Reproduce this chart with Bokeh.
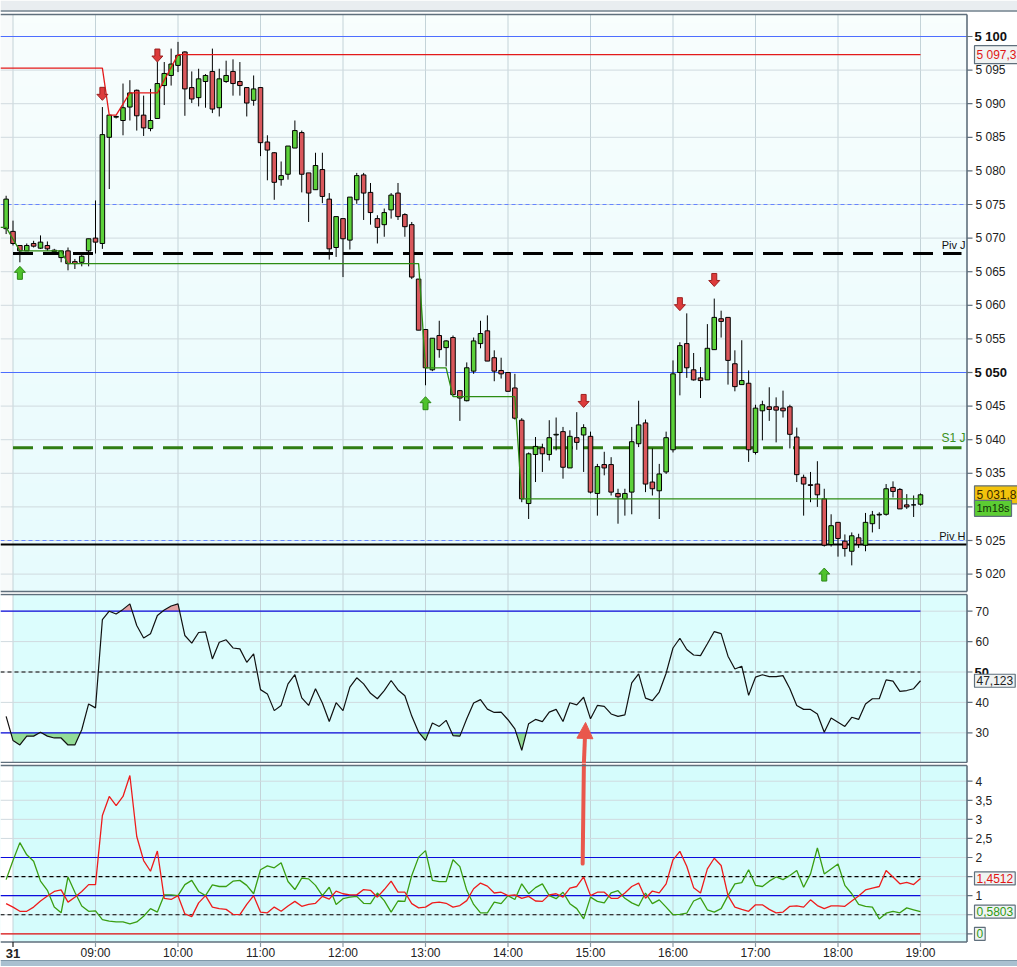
import numpy as np

from bokeh.plotting import figure
from bokeh.layouts import column
from bokeh.models import ColumnDataSource, Range1d, Label, Arrow, NormalHead
from bokeh.embed import file_html
from bokeh.resources import INLINE

# ------------------------------------------------------------------
# 1) DATA  (5-minute candles, 07:55 -> 19:00)
# ------------------------------------------------------------------
opens = [
    5071.4, 5071.0, 5068.9, 5068.1, 5069.2, 5068.5, 5068.9, 5068.2, 5067.1, 5068.1,
    5066.5, 5066.4, 5068.1, 5070.0, 5069.2, 5085.0, 5088.0, 5087.5, 5089.5, 5092.0,
    5088.3, 5086.3, 5087.8, 5092.7, 5094.2, 5095.7, 5097.7, 5092.4, 5090.9, 5093.3,
    5094.8, 5089.4, 5093.3, 5094.8, 5093.3, 5092.4, 5090.5, 5092.4, 5084.3, 5082.7,
    5078.7, 5079.5, 5083.4, 5085.7, 5079.7, 5077.2, 5080.2, 5075.8, 5068.6, 5072.9,
    5069.7, 5075.7, 5079.4, 5076.8, 5072.9, 5072.0, 5074.2, 5076.7, 5073.5, 5072.0,
    5063.9, 5056.4, 5050.4, 5055.5, 5053.7, 5055.2, 5047.3, 5045.8, 5050.2, 5054.3,
    5056.2, 5052.2, 5050.3, 5050.0, 5047.7, 5042.9, 5030.5, 5037.8, 5038.8, 5037.8,
    5040.7, 5041.2, 5035.8, 5040.3, 5040.7, 5040.5, 5032.0, 5036.3, 5036.3, 5032.0,
    5031.2, 5032.2, 5039.4, 5042.5, 5033.7, 5032.4, 5035.2, 5038.5, 5050.0, 5054.3,
    5050.4, 5049.2, 5048.9, 5053.4, 5058.0, 5058.2, 5051.3, 5048.2, 5048.4, 5038.1,
    5044.3, 5044.9, 5044.9, 5044.7, 5044.9, 5040.4, 5034.4, 5033.3, 5033.4, 5031.2,
    5024.4, 5027.7, 5024.9, 5023.4, 5025.4, 5024.3, 5027.5, 5028.8, 5028.9, 5032.9,
    5032.6, 5030.3, 5030.3, 5030.4,
]
highs = [
    5076.3, 5072.6, 5068.9, 5069.2, 5069.6, 5070.4, 5069.5, 5068.4, 5068.1, 5068.6,
    5066.9, 5067.8, 5069.9, 5075.6, 5089.5, 5088.3, 5088.2, 5093.0, 5093.5, 5092.1,
    5091.2, 5092.2, 5096.2, 5096.2, 5098.2, 5099.2, 5097.8, 5094.8, 5095.2, 5094.4,
    5098.2, 5095.2, 5096.4, 5096.6, 5096.2, 5092.4, 5094.2, 5092.4, 5085.3, 5082.8,
    5081.4, 5083.7, 5087.5, 5086.0, 5079.7, 5082.7, 5082.7, 5076.7, 5073.2, 5072.9,
    5076.1, 5079.7, 5079.7, 5078.2, 5073.4, 5074.4, 5076.7, 5078.2, 5073.7, 5072.4,
    5063.9, 5056.4, 5055.1, 5057.7, 5054.8, 5055.5, 5047.4, 5051.5, 5055.2, 5057.7,
    5058.5, 5053.3, 5052.2, 5050.0, 5049.8, 5043.2, 5038.1, 5040.4, 5039.4, 5042.9,
    5043.3, 5041.9, 5041.4, 5044.1, 5042.3, 5041.2, 5036.4, 5038.2, 5037.4, 5032.7,
    5032.7, 5041.9, 5045.8, 5043.0, 5038.7, 5036.4, 5041.2, 5051.8, 5054.5, 5058.8,
    5052.9, 5050.8, 5057.2, 5061.0, 5059.2, 5058.2, 5053.3, 5054.8, 5050.3, 5045.2,
    5045.8, 5047.8, 5046.3, 5047.3, 5045.2, 5041.8, 5034.8, 5035.2, 5036.8, 5032.7,
    5028.9, 5027.7, 5025.9, 5026.2, 5026.0, 5029.1, 5029.4, 5029.2, 5033.4, 5033.8,
    5032.8, 5031.9, 5031.7, 5032.0,
]
lows = [
    5070.6, 5068.9, 5066.4, 5068.1, 5068.6, 5068.4, 5068.1, 5067.8, 5066.4, 5065.2,
    5065.4, 5065.8, 5065.8, 5067.7, 5068.4, 5077.3, 5087.8, 5085.3, 5087.5, 5086.0,
    5085.2, 5085.9, 5087.8, 5089.8, 5092.7, 5094.7, 5088.2, 5090.1, 5089.6, 5089.4,
    5088.6, 5088.1, 5093.1, 5091.2, 5091.2, 5088.1, 5089.7, 5082.2, 5078.6, 5075.7,
    5077.8, 5078.7, 5083.4, 5076.8, 5072.4, 5077.2, 5075.2, 5066.8, 5067.2, 5064.2,
    5068.3, 5075.1, 5072.7, 5072.0, 5069.2, 5070.2, 5072.9, 5072.7, 5070.2, 5063.9,
    5056.3, 5048.1, 5050.2, 5052.2, 5050.9, 5046.6, 5042.8, 5045.7, 5049.8, 5053.6,
    5051.7, 5048.7, 5049.1, 5047.2, 5043.0, 5030.7, 5028.2, 5033.7, 5035.2, 5036.9,
    5038.4, 5034.2, 5035.8, 5038.5, 5035.2, 5032.0, 5028.7, 5034.7, 5031.7, 5027.5,
    5028.7, 5028.9, 5038.9, 5032.2, 5031.7, 5028.2, 5034.9, 5038.1, 5046.6, 5049.2,
    5048.8, 5046.2, 5048.9, 5053.4, 5055.2, 5048.2, 5047.2, 5048.2, 5036.7, 5037.8,
    5039.9, 5042.8, 5039.6, 5043.3, 5038.7, 5033.7, 5028.7, 5030.7, 5030.0, 5024.1,
    5024.1, 5022.6, 5022.6, 5021.3, 5023.9, 5023.4, 5026.2, 5026.7, 5028.7, 5031.4,
    5029.7, 5029.7, 5028.5, 5030.2,
]
closes = [
    5075.8, 5069.2, 5068.1, 5068.9, 5068.8, 5069.4, 5068.4, 5068.0, 5068.1, 5066.2,
    5066.2, 5067.3, 5069.9, 5069.4, 5085.4, 5088.3, 5088.1, 5089.4, 5091.6, 5088.2,
    5086.4, 5087.5, 5093.0, 5094.5, 5095.9, 5097.2, 5092.2, 5090.7, 5093.7, 5094.2,
    5089.2, 5093.7, 5094.2, 5093.0, 5092.7, 5090.1, 5092.2, 5084.2, 5083.1, 5078.3,
    5079.3, 5083.7, 5086.0, 5079.5, 5076.7, 5080.8, 5076.2, 5068.4, 5073.2, 5069.9,
    5076.1, 5079.3, 5076.7, 5073.8, 5071.6, 5073.8, 5076.4, 5073.2, 5071.7, 5064.2,
    5056.3, 5050.7, 5055.1, 5053.4, 5054.7, 5046.7, 5046.2, 5050.7, 5054.7, 5055.8,
    5051.7, 5050.2, 5049.8, 5047.2, 5043.2, 5031.2, 5037.9, 5039.0, 5037.9, 5040.3,
    5040.8, 5035.9, 5040.5, 5039.6, 5041.8, 5032.2, 5036.0, 5035.8, 5032.2, 5031.5,
    5032.0, 5039.7, 5042.2, 5033.4, 5032.7, 5034.9, 5040.3, 5049.8, 5054.0, 5050.7,
    5048.9, 5048.8, 5053.6, 5058.2, 5057.6, 5051.8, 5047.9, 5048.8, 5038.5, 5044.7,
    5045.2, 5044.5, 5044.4, 5044.3, 5040.8, 5034.8, 5033.4, 5033.2, 5031.8, 5024.3,
    5027.2, 5025.3, 5023.8, 5025.7, 5024.4, 5027.7, 5028.8, 5028.9, 5032.7, 5032.3,
    5029.7, 5030.0, 5030.3, 5031.8,
]

# RSI (one value per candle)
rsi = [
    35.4, 27.5, 26.0, 28.9, 28.9, 30.2, 28.9, 28.3, 28.3, 26.0,
    26.0, 31.0, 39.5, 38.2, 67.2, 70.0, 69.1, 70.6, 72.4, 65.3,
    61.2, 62.6, 68.6, 70.4, 71.7, 72.4, 62.0, 59.5, 63.0, 63.2,
    54.3, 59.8, 60.6, 57.9, 57.6, 53.2, 56.0, 44.2, 42.8, 37.3,
    39.0, 46.1, 49.1, 41.5, 39.0, 44.5, 39.8, 33.7, 39.9, 37.3,
    45.0, 48.1, 46.1, 43.0, 41.2, 43.9, 47.2, 44.1, 42.2, 35.5,
    30.2, 27.5, 33.2, 32.1, 34.1, 29.1, 28.9, 34.6, 39.8, 40.9,
    37.8, 36.7, 36.8, 34.3, 31.3, 24.2, 33.0, 34.4, 33.7, 36.8,
    37.7, 33.7, 39.9, 39.2, 41.7, 34.6, 39.0, 38.7, 36.2, 35.4,
    35.9, 46.4, 49.4, 41.4, 40.6, 43.4, 49.6, 57.9, 61.1, 57.4,
    55.6, 55.4, 59.3, 63.3, 62.6, 55.2, 51.0, 51.9, 42.3, 48.3,
    49.1, 48.5, 48.5, 48.8, 44.5, 39.0, 37.7, 37.7, 36.2, 30.2,
    34.9, 33.5, 32.1, 35.1, 34.4, 39.5, 41.2, 41.2, 47.4, 47.0,
    43.6, 43.9, 44.5, 47.123,
]

# lower oscillator: two ratio lines
ratio_red = [
    0.79, 0.70, 0.59, 0.59, 0.70, 0.86, 0.99, 1.11, 1.15, 0.83,
    0.96, 1.11, 1.29, 1.29, 3.10, 3.60, 3.36, 3.60, 4.15, 2.55,
    1.92, 1.64, 2.17, 0.93, 0.90, 1.00, 0.52, 0.45, 0.81, 1.00,
    0.70, 0.66, 0.64, 0.51, 0.50, 0.77, 1.00, 0.57, 0.55, 0.70,
    0.59, 0.73, 0.85, 0.72, 0.77, 0.80, 0.98, 0.91, 1.12, 1.05,
    1.02, 1.02, 1.16, 1.14, 0.96, 1.16, 1.38, 1.09, 1.09, 0.79,
    0.68, 0.70, 0.81, 0.83, 0.80, 0.70, 0.74, 0.87, 1.18, 1.33,
    1.25, 1.07, 1.09, 1.00, 1.02, 0.93, 0.98, 0.86, 0.85, 1.02,
    1.05, 0.96, 1.20, 1.24, 1.49, 1.00, 1.09, 1.09, 0.93, 0.93,
    1.07, 1.24, 1.33, 0.93, 1.12, 1.07, 1.31, 1.94, 2.16, 1.77,
    1.21, 1.07, 1.70, 1.98, 1.79, 1.00, 0.70, 0.64, 0.59, 0.76,
    0.76, 0.64, 0.55, 0.57, 0.72, 0.73, 0.70, 0.89, 0.74, 0.66,
    0.73, 0.73, 0.72, 0.86, 0.99, 1.15, 1.20, 1.24, 1.66, 1.49,
    1.31, 1.35, 1.29, 1.4512,
]
ratio_green = [
    1.42, 1.92, 2.39, 2.07, 1.90, 1.38, 1.14, 0.70, 0.55, 1.49,
    1.09, 0.73, 0.59, 0.60, 0.37, 0.33, 0.31, 0.31, 0.26, 0.31,
    0.46, 0.66, 0.57, 1.02, 1.02, 1.00, 1.29, 1.40, 1.11, 1.00,
    1.28, 1.24, 1.24, 1.38, 1.40, 1.27, 1.05, 1.68, 1.78, 1.73,
    1.86, 1.37, 1.16, 1.46, 1.44, 1.27, 1.00, 1.22, 0.77, 0.92,
    0.96, 0.98, 0.80, 0.79, 1.07, 0.87, 0.57, 0.86, 0.85, 1.53,
    2.01, 2.18, 1.40, 1.37, 1.37, 1.94, 1.76, 1.14, 0.77, 0.55,
    0.55, 0.83, 0.79, 1.00, 0.90, 1.31, 1.05, 1.21, 1.31, 1.00,
    0.92, 1.09, 0.79, 0.66, 0.39, 0.96, 0.85, 0.81, 1.07, 1.13,
    0.93, 0.81, 0.73, 1.07, 0.79, 0.89, 0.70, 0.50, 0.51, 0.54,
    0.86, 0.94, 0.63, 0.57, 0.66, 1.00, 1.31, 1.34, 1.68, 1.27,
    1.24, 1.38, 1.49, 1.42, 1.53, 1.66, 1.22, 1.57, 2.25, 1.57,
    1.70, 1.83, 1.27, 1.05, 0.77, 0.72, 0.70, 0.39, 0.54, 0.59,
    0.55, 0.68, 0.63, 0.5803,
]

# trailing stop lines (candle number -> level)
resist_bars = [1, 15, 16, 17, 19, 23, 26, 134]
resist_lvls = [5095.3, 5095.3, 5088.3, 5088.3, 5091.6, 5091.6, 5097.3, 5097.3]
support_bars = [1, 3, 9, 10, 61, 62, 65, 66, 75, 76, 134]
support_lvls = [5071.6, 5068.1, 5068.1, 5066.2, 5066.2, 5050.7, 5050.7,
                5046.4, 5046.4, 5031.2, 5031.2]

# signals (candle number, tip price)
buy_bars = [3, 62, 120]
buy_tips = [5065.8, 5046.4, 5020.9]
sell_bars = [15, 23, 85, 99, 104]
sell_tips = [5090.5, 5096.2, 5044.8, 5059.2, 5062.8]

# pivot levels
PIV_J = 5067.7
S1_J = 5038.8
PIV_H = 5024.4
BLUE_SOLID = [5100, 5050]
BLUE_DASHED = [5075, 5025]

price_ticks = list(range(5020, 5101, 5))
rsi_ticks = [30, 40, 50, 60, 70]
osc_ticks = [0, 0.5, 1, 1.5, 2, 2.5, 3, 3.5, 4]
osc_tick_labels = ["", "", "1", "", "2", "2,5", "3", "3,5", "4"]

HOURS = list(range(8, 20))
HOUR_LABELS = ["31"] + [f"{h:02d}:00" for h in range(9, 20)]

# hand-drawn annotation arrow (times, RSI tip, oscillator tail)
NOTE_T = [14.92, 14.94, 14.905]
NOTE_RSI_TIP = 33.4
NOTE_OSC_TAIL = 1.84

TIMER_TEXT = "1m18s"

# ------------------------------------------------------------------
# 2) LAYOUT: pixel <-> data helpers
# ------------------------------------------------------------------
FONT = "Liberation Sans"
W = 1017
PX_PER_HOUR = 82.5


def hour_at(px):
    return 8 + (px - 12.5) / PX_PER_HOUR


def y_mapper(ref_val, ref_px, ppu):
    return lambda px: ref_val - (px - ref_px) / ppu


X_LEFT, X_RIGHT = hour_at(0), hour_at(W)
PANEL_END = hour_at(966.5)
TICK_END = hour_at(972)
LABEL_X = hour_at(975)
BOX_X = hour_at(974)

py1 = y_mapper(5050, 372, 6.72)      # price panel
py2 = y_mapper(70, 610.7, 3.04)      # RSI panel
py3 = y_mapper(0, 933.3, 38.15)      # oscillator panel
PX_PER_PT = 6.72

FIRST_BAR = 7 + 55 / 60
STEP = 5 / 60
times = [FIRST_BAR + i * STEP for i in range(len(closes))]
BAR_W = STEP * 0.66


def t_of(bar):
    return times[bar - 1]


GREEN = "#5cd13a"
RED = "#d9585c"
GRID_H = "#d0dadf"
GRID_V = "#c4d3d8"
OUTLINE = "#5f6f7c"

xr = Range1d(X_LEFT, X_RIGHT)


def make_panel(fig_top, fig_bottom, ymap, top_px, bottom_px, bg, ticks):
    p = figure(
        width=W, height=fig_bottom - fig_top, x_range=xr,
        y_range=Range1d(ymap(fig_bottom), ymap(fig_top)),
        output_backend="svg", toolbar_location=None,
        x_axis_location=None, y_axis_location=None, min_border=0,
        background_fill_color="white", border_fill_color="white",
        outline_line_color=None,
    )
    p.grid.visible = False
    lo, hi = ymap(bottom_px), ymap(top_px)
    if bg is not None:
        p.quad(left=X_LEFT, right=PANEL_END, bottom=lo, top=hi,
               fill_color=bg, line_color=None, level="image")
    p.quad(left=X_LEFT, right=HOURS[0], bottom=lo, top=hi,
           fill_color="white", line_color=None, level="image")
    p.segment(x0=HOURS, y0=lo, x1=HOURS, y1=hi, line_color=GRID_V,
              line_width=1, level="underlay")
    p.segment(x0=X_LEFT, y0=ticks, x1=PANEL_END, y1=ticks, line_color=GRID_H,
              line_width=1, level="underlay")
    return p, lo, hi


def finish_panel(p, lo, hi, ticks, labels):
    p.segment(x0=[X_LEFT, X_LEFT, PANEL_END], y0=[hi, lo, lo],
              x1=[PANEL_END, PANEL_END, PANEL_END], y1=[hi, lo, hi],
              line_color=OUTLINE, line_width=1.6)
    shown = [t for t, lab in zip(ticks, labels)]
    p.segment(x0=PANEL_END, y0=shown, x1=TICK_END, y1=shown,
              line_color=OUTLINE, line_width=1.2)
    for t, lab in zip(ticks, labels):
        if lab:
            p.add_layout(Label(x=LABEL_X, y=t, text=lab, text_font=FONT,
                               text_font_size="12px", text_color="#222222",
                               text_align="left", text_baseline="middle"))


def side_box(p, y, text, color="#222222", bg="#f0f3f3", size="12px", bold=False):
    p.add_layout(Label(
        x=BOX_X, y=y, text=text, text_color=color,
        text_font=FONT, text_font_size=size,
        text_font_style="bold" if bold else "normal",
        text_align="left", text_baseline="middle",
        background_fill_color=bg,
        border_line_color=OUTLINE if bg else None, border_line_width=1.2,
        padding=2 if bg else 0,
    ))


def fill_beyond(xs, ys, level, above):
    polys_x, polys_y = [], []
    cx, cy = [], []
    prev = None
    for i, (x, y) in enumerate(zip(xs, ys)):
        inside = (y > level) if above else (y < level)
        if i > 0 and inside != prev:
            f = (level - ys[i - 1]) / (y - ys[i - 1])
            xc = xs[i - 1] + f * (x - xs[i - 1])
            if prev:
                cx.append(xc)
                cy.append(level)
                polys_x.append(cx)
                polys_y.append(cy)
                cx, cy = [], []
            else:
                cx, cy = [xc], [level]
        if inside:
            cx.append(x)
            cy.append(y)
        prev = inside
    if cx:
        cx.append(xs[-1])
        cy.append(level)
        polys_x.append(cx)
        polys_y.append(cy)
    return polys_x, polys_y


# ------------------------------------------------------------------
# 3) PRICE PANEL (page px 0 -> 593, panel 14 -> 591)
# ------------------------------------------------------------------
p1, lo1, hi1 = make_panel(0, 593, py1, 14, 591, None, price_ticks)

grad = np.zeros((64, 1), dtype=np.uint32)
view = grad.view(dtype=np.uint8).reshape((64, 1, 4))
for i in range(64):
    f = i / 63
    view[i, 0, :] = [int(231 + 17 * f), int(251 + 3 * f), 253, 255]
p1.image_rgba(image=[grad], x=X_LEFT, y=lo1, dw=PANEL_END - X_LEFT, dh=hi1 - lo1,
              level="image")
p1.quad(left=X_LEFT, right=HOURS[0], bottom=lo1, top=hi1,
        fill_color="#f7fafa", line_color=None, level="image")

# window strip above the chart
p1.quad(left=X_LEFT, right=X_RIGHT, bottom=py1(10), top=py1(0),
        fill_color="#e9edf0", line_color=None)
p1.segment(x0=X_LEFT, y0=py1(10.5), x1=X_RIGHT, y1=py1(10.5),
           line_color="#70808c", line_width=1.5)

for lv in BLUE_SOLID:
    p1.segment(x0=X_LEFT, y0=lv, x1=PANEL_END, y1=lv, line_color="#4d6dff",
               line_width=1, level="underlay")
for lv in BLUE_DASHED:
    p1.segment(x0=X_LEFT, y0=lv, x1=PANEL_END, y1=lv, line_color="#6685ff",
               line_width=1, line_dash="4 3", level="underlay")
p1.segment(x0=X_LEFT, y0=PIV_H, x1=PANEL_END, y1=PIV_H, line_color="black",
           line_width=2, level="underlay")
p1.line([HOURS[0], hour_at(961)], [PIV_J, PIV_J], line_color="black",
        line_width=3, line_dash="20 10")
p1.line([HOURS[0], hour_at(961)], [S1_J, S1_J], line_color="#2f7d12",
        line_width=3, line_dash="20 10")

o = np.array(opens)
c = np.array(closes)
src = ColumnDataSource(dict(
    t=times, h=highs, l=lows,
    top=np.maximum(o, c), bot=np.minimum(o, c),
    color=[GREEN if cc >= oo else RED for oo, cc in zip(opens, closes)],
))
p1.segment(x0="t", y0="l", x1="t", y1="h", source=src, line_color="black", line_width=1)
p1.vbar(x="t", width=BAR_W, top="top", bottom="bot", source=src,
        fill_color="color", line_color="black", line_width=1)

p1.line([X_LEFT] + [t_of(b) for b in resist_bars], resist_lvls[:1] + resist_lvls,
        line_color="#e31a1a", line_width=1.3)
p1.line([X_LEFT] + [t_of(b) for b in support_bars], support_lvls[:1] + support_lvls,
        line_color="#2c8c12", line_width=1.3)

# signal arrows (shape in pixels, tip at origin)
ARROW_SHAPE = [(-2.5, 13), (2.5, 13), (2.5, 6), (5.5, 6), (0, 0), (-5.5, 6), (-2.5, 6)]


def arrow_polys(bars, tips, direction):
    xs, ys = [], []
    for b, tip in zip(bars, tips):
        xs.append([t_of(b) + dx / PX_PER_HOUR for dx, dy in ARROW_SHAPE])
        ys.append([tip - direction * dy / PX_PER_PT for dx, dy in ARROW_SHAPE])
    return xs, ys


bx, by = arrow_polys(buy_bars, buy_tips, 1)
p1.patches(bx, by, fill_color="#4fc22c", line_color="#2b8716", line_width=1)
sx, sy = arrow_polys(sell_bars, sell_tips, -1)
p1.patches(sx, sy, fill_color="#dd3b3b", line_color="#9c1f1f", line_width=1)

for txt, lv, col, size in [("Piv J", PIV_J, "#111111", "11px"),
                           ("S1 J", S1_J, "#3a9020", "12px"),
                           ("Piv H", PIV_H, "#111111", "11px")]:
    p1.add_layout(Label(x=hour_at(965), y=lv + 2.5 / PX_PER_PT, text=txt,
                        text_color=col, text_font=FONT, text_font_size=size,
                        text_align="right", text_baseline="bottom"))

price_labels = ["" if v in BLUE_SOLID else f"5 {v - 5000:03d}" for v in price_ticks]
finish_panel(p1, lo1, hi1, price_ticks, price_labels)
for lv in BLUE_SOLID:
    p1.add_layout(Label(x=hour_at(974), y=lv, text=f"5 {lv - 5000:03d}",
                        text_font=FONT, text_font_size="13px", text_font_style="bold",
                        text_color="#111111", text_align="left", text_baseline="middle"))
side_box(p1, resist_lvls[-1], "5 097,3", color="#e01515")
side_box(p1, closes[-1], "5 031,8", color="#3a2a00", bg="#f3c30c")
side_box(p1, closes[-1] - 13.5 / PX_PER_PT, TIMER_TEXT, color="#123008",
         bg="#5ccd33", size="11px")

# ------------------------------------------------------------------
# 4) RSI PANEL (page px 593 -> 763, panel 594 -> 762)
# ------------------------------------------------------------------
p2, lo2, hi2 = make_panel(593, 763, py2, 594, 762, "#dcfdfd", rsi_ticks)

fx, fy = fill_beyond(times, rsi, 70, True)
p2.patches(fx, fy, fill_color="#e3a2a2", line_color=None)
fx, fy = fill_beyond(times, rsi, 30, False)
p2.patches(fx, fy, fill_color="#93dc97", line_color=None)

p2.line([X_LEFT, times[-1]], [70, 70], line_color="#0b0bdd", line_width=1.2)
p2.line([X_LEFT, times[-1]], [30, 30], line_color="#0b0bdd", line_width=1.2)
p2.line([X_LEFT, times[-1]], [50, 50], line_color="black", line_width=1.2, line_dash="4 3")
p2.line(times, rsi, line_color="#111111", line_width=1.2)

NOTE_C = "#e9574c"
p2.add_layout(Arrow(
    end=NormalHead(size=16, fill_color=NOTE_C, line_color=NOTE_C),
    x_start=NOTE_T[0], y_start=py2(763), x_end=NOTE_T[1], y_end=NOTE_RSI_TIP,
    line_color=NOTE_C, line_width=4,
))

finish_panel(p2, lo2, hi2, rsi_ticks, ["30", "40", "", "60", "70"])
p2.add_layout(Label(x=hour_at(974), y=50, text="50", text_font=FONT,
                    text_font_size="13px", text_font_style="bold", text_color="#111111",
                    text_align="left", text_baseline="middle"))
side_box(p2, rsi[-1], f"{rsi[-1]:.3f}".replace(".", ","))

# ------------------------------------------------------------------
# 5) OSCILLATOR PANEL + TIME AXIS (page px 763 -> 966, panel 765 -> 941.5)
# ------------------------------------------------------------------
p3, lo3, hi3 = make_panel(763, 966, py3, 765, 941.5, "#d5fcfc", osc_ticks)

for lv, col, dash in [(2, "#0b0bdd", "solid"), (1, "#0b0bdd", "solid"),
                      (1.5, "black", "4 3"), (0.5, "black", "4 3"),
                      (0, "#e01010", "solid")]:
    p3.line([X_LEFT, times[-1]], [lv, lv], line_color=col, line_width=1.2, line_dash=dash)

p3.line(times, ratio_green, line_color="#3a9e12", line_width=1.3)
p3.line(times, ratio_red, line_color="#ee1c1c", line_width=1.3)

p3.segment(x0=NOTE_T[0], y0=py3(763), x1=NOTE_T[2], y1=NOTE_OSC_TAIL,
           line_color=NOTE_C, line_width=4, line_cap="round")

finish_panel(p3, lo3, hi3, osc_ticks, osc_tick_labels)
side_box(p3, ratio_red[-1], f"{ratio_red[-1]:.4f}".replace(".", ","), color="#e01515")
side_box(p3, ratio_green[-1], f"{ratio_green[-1]:.4f}".replace(".", ","), color="#2f9a12")
side_box(p3, 0, "0", color="#2f9a12")

# time axis drawn under the panel
p3.segment(x0=HOURS, y0=lo3, x1=HOURS, y1=py3(946.5),
           line_color=["#222222"] + ["#8a9aa4"] * (len(HOURS) - 1), line_width=1.2)
for i, (h, lab) in enumerate(zip(HOURS, HOUR_LABELS)):
    p3.add_layout(Label(x=h, y=py3(952.5), text=lab, text_font=FONT,
                        text_font_size="13px" if i == 0 else "12px",
                        text_font_style="bold" if i == 0 else "normal",
                        text_color="#222222", text_align="center",
                        text_baseline="middle"))
p3.quad(left=X_LEFT, right=X_RIGHT, bottom=py3(966), top=py3(960),
        fill_color="#a9c0d0", line_color=None)
p3.segment(x0=X_LEFT, y0=py3(960), x1=X_RIGHT, y1=py3(960),
           line_color="#7f97a8", line_width=1)

# ------------------------------------------------------------------
# 6) OUTPUT
# ------------------------------------------------------------------
layout = column(p1, p2, p3)
open("out.html", "w").write(file_html(layout, INLINE))
